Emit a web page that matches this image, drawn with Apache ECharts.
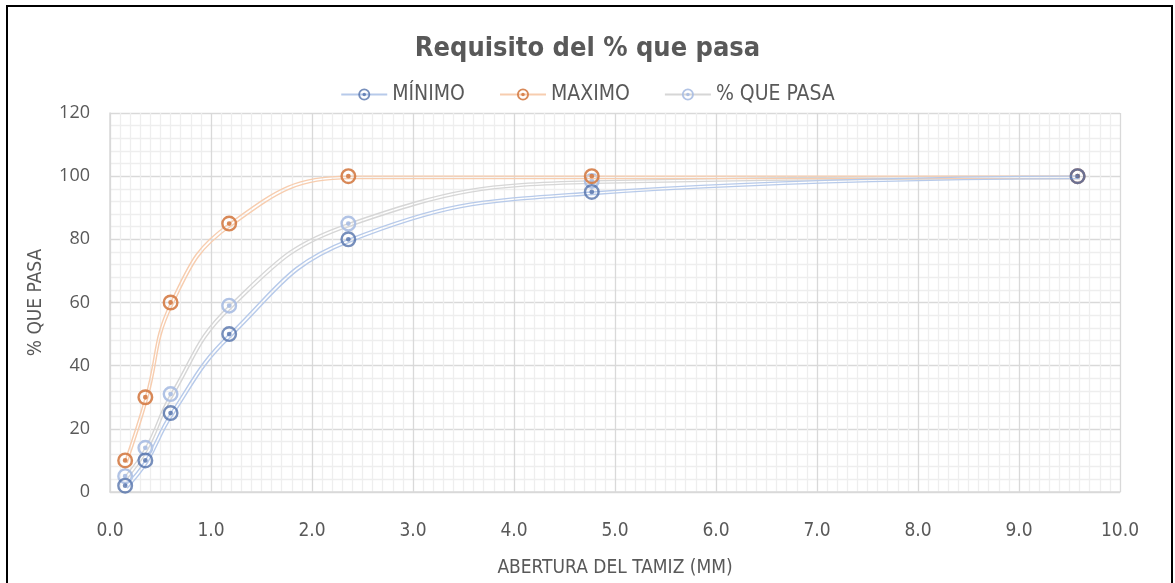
<!DOCTYPE html>
<html>
<head>
<meta charset="utf-8">
<script src="https://cdn.jsdelivr.net/npm/echarts@6/dist/echarts.min.js"></script>
<style>
html,body{margin:0;padding:0;background:#fff;}
#chart{width:1175px;height:583px;}
#frame{position:absolute;left:6px;top:5px;width:1163px;height:600px;border:2px solid #000;pointer-events:none;}
</style>
</head>
<body>
<div id="chart"></div>
<div id="frame"></div>
<script>
const abertura = [0.15, 0.35, 0.6, 1.18, 2.36, 4.77, 9.58];
const minimo = [2, 10, 25, 50, 80, 95, 100];
const maximo = [10, 30, 60, 85, 100, 100, 100];
const quePasa = [5, 14, 31, 59, 85, 98.5, 100];
const xTicks = [0,1,2,3,4,5,6,7,8,9,10];
const yTicks = [0,20,40,60,80,100,120];

const FONT = '"Liberation Sans Narrow","DejaVu Sans Condensed","Liberation Sans",sans-serif';
const RING = 'path://M0,10a10,10 0 1,0 20,0a10,10 0 1,0 -20,0zM3,10a7,7 0 1,1 14,0a7,7 0 1,1 -14,0zM7,10a3,3 0 1,0 6,0a3,3 0 1,0 -6,0z';

function pairs(xs, ys){ return xs.map((x,i)=>[x, ys[i]]); }

function mk(name, ys, ringColor, lineColor, z, op){
  return {
    name: name, type: 'line', smooth: 0.45, z: z,
    data: pairs(abertura, ys),
    symbol: RING, symbolSize: 16,
    itemStyle: {color: ringColor, opacity: op},
    lineStyle: {color: lineColor, width: 1.4, shadowColor: lineColor, shadowOffsetX: 2, shadowOffsetY: 2.5, shadowBlur: 0},
    emphasis: {disabled: true}
  };
}

const chart = echarts.init(document.getElementById('chart'), null, {renderer: 'canvas'});
chart.setOption({
  backgroundColor: '#fff',
  animation: false,
  title: {
    text: 'Requisito del % que pasa', left: 'center', top: 30,
    textStyle: {fontFamily: FONT, fontSize: 27, fontWeight: 'bold', color: '#595959'}
  },
  legend: {
    top: 79, left: 'center', itemGap: 34, itemWidth: 46, itemHeight: 15,
    data: ['MÍNIMO','MAXIMO','% QUE PASA'],
    textStyle: {fontFamily: FONT, fontSize: 21, color: '#595959'}
  },
  grid: {left: 110, right: 55, top: 113, bottom: 90, containLabel: false},
  xAxis: {
    type: 'value', min: xTicks[0], max: xTicks[xTicks.length-1], interval: 1,
    name: 'ABERTURA DEL TAMIZ (MM)', nameLocation: 'middle', nameGap: 67,
    nameTextStyle: {fontFamily: FONT, fontSize: 19, color: '#595959'},
    axisLabel: {fontFamily: FONT, fontSize: 19, color: '#595959', margin: 30, formatter: v => v.toFixed(1)},
    axisLine: {show: true, lineStyle: {color: '#D9D9D9', width: 1.5}},
    axisTick: {show: false},
    splitLine: {show: true, lineStyle: {color: '#D9D9D9', width: 1.3}},
    minorTick: {show: false, splitNumber: 10},
    minorSplitLine: {show: true, lineStyle: {color: '#EEEEEE', width: 1.3}}
  },
  yAxis: {
    type: 'value', min: yTicks[0], max: yTicks[yTicks.length-1], interval: 20,
    name: '% QUE PASA', nameLocation: 'middle', nameGap: 64, nameRotate: 90,
    nameTextStyle: {fontFamily: FONT, fontSize: 19, color: '#595959'},
    axisLabel: {fontFamily: '"Open Sans","Liberation Sans",sans-serif', fontSize: 18, color: '#595959', margin: 20},
    axisLine: {show: true, lineStyle: {color: '#D9D9D9', width: 1.5}},
    axisTick: {show: false},
    splitLine: {show: true, lineStyle: {color: '#D9D9D9', width: 1.3}},
    minorTick: {show: false, splitNumber: 5},
    minorSplitLine: {show: true, lineStyle: {color: '#EEEEEE', width: 1.3}}
  },
  series: [
    mk('% QUE PASA', quePasa, '#A9BDE2', '#D6D6D6', 2, 0.9),
    mk('MAXIMO', maximo, '#D47B45', '#F7CDAF', 3, 0.9),
    mk('MÍNIMO', minimo, '#4A6AA5', '#B7CAEA', 4, 0.75)
  ]
});
</script>
</body>
</html>
